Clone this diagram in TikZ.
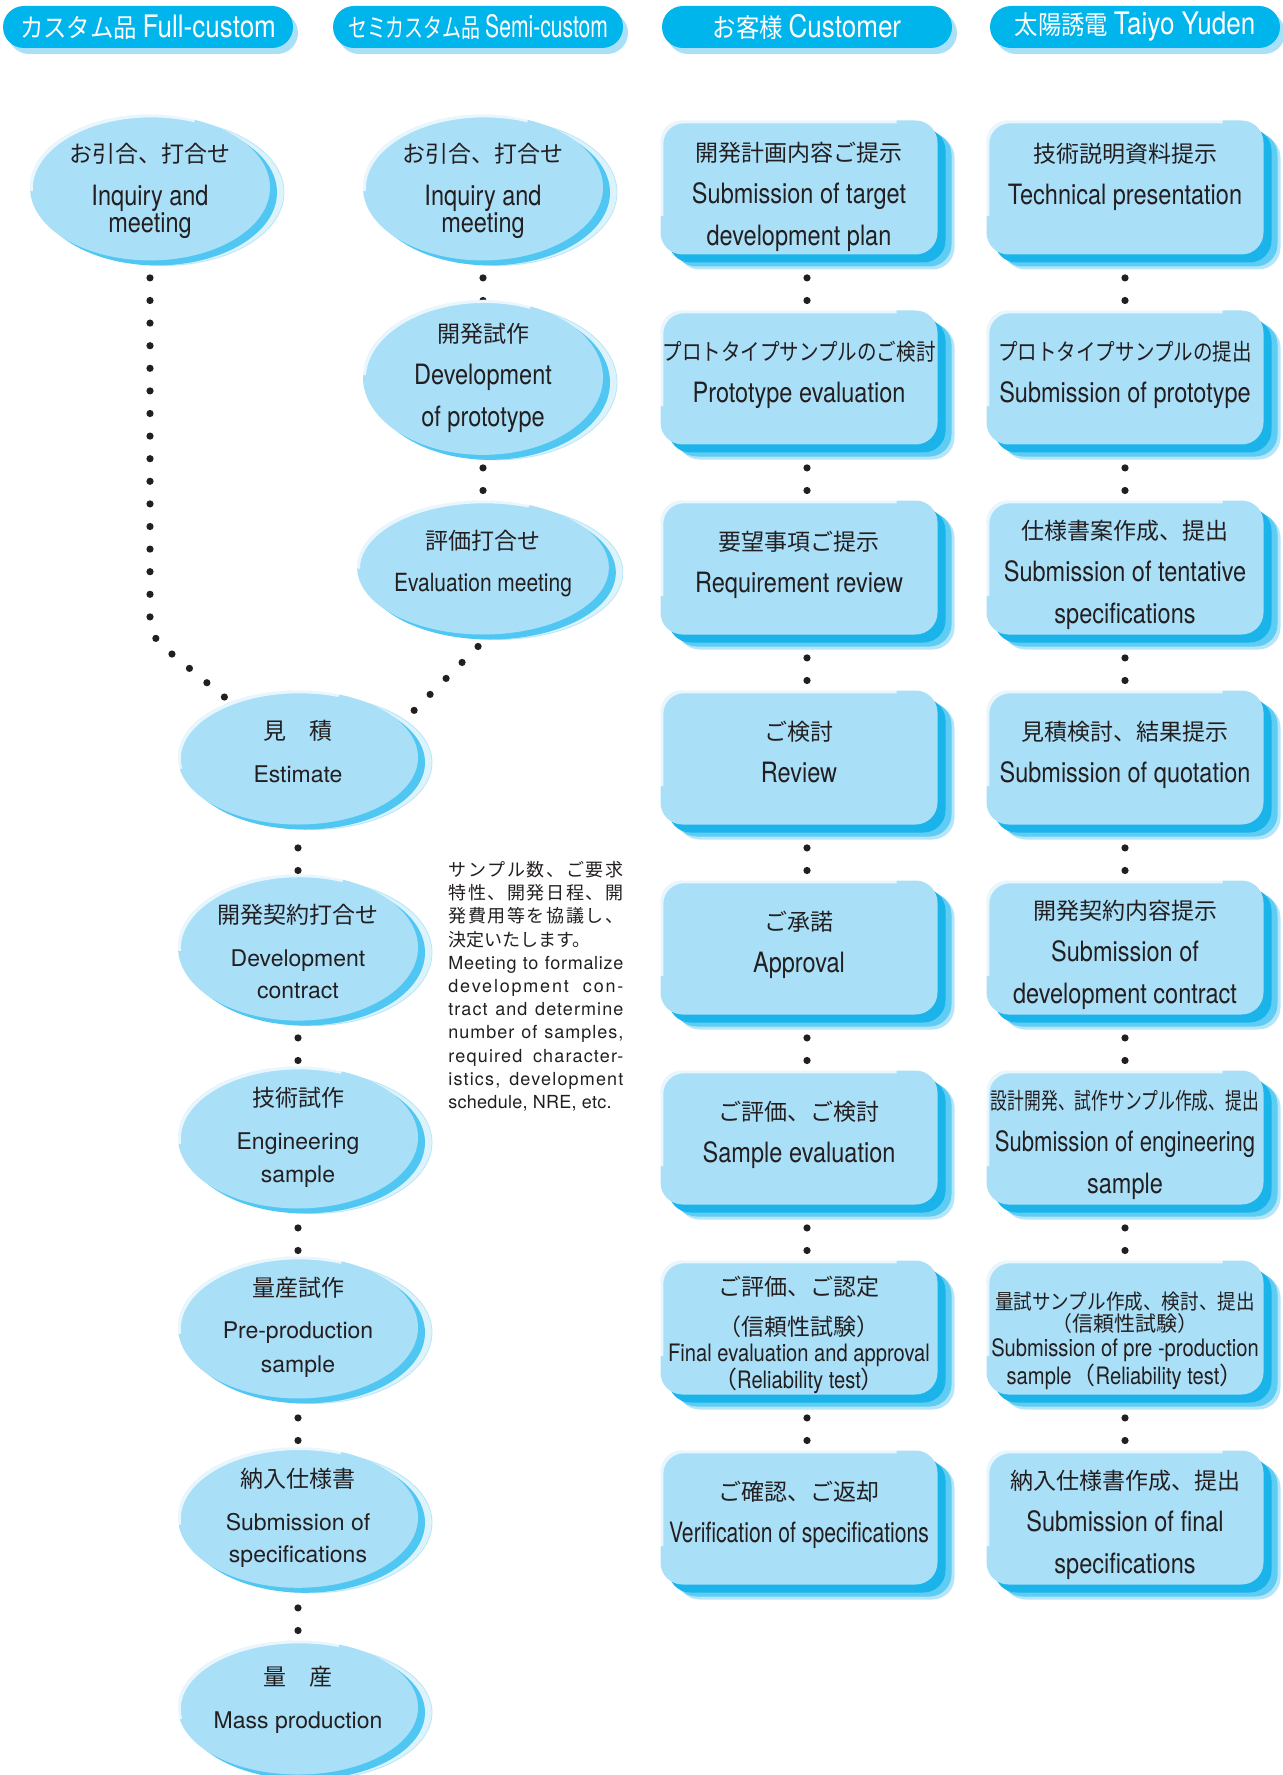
\documentclass[tikz,border=0pt]{standalone}
\usepackage{fontspec}
\usepackage{graphicx}
\setmainfont{TeX Gyre Heros}
\newfontfamily\cn{TeX Gyre Heros}[FakeStretch=0.84]
\newfontfamily\jp{Noto Sans CJK JP}
\newfontfamily\jpc{Noto Sans CJK JP}[FakeStretch=0.9]
\newfontfamily\notefont{TeX Gyre Heros}[LetterSpace=2]
\usetikzlibrary{shapes.geometric,backgrounds}
\definecolor{ink}{HTML}{231F20}
\definecolor{lightb}{HTML}{AADFF8}
\definecolor{rimell}{HTML}{50C7F2}
\definecolor{haloell}{HTML}{DDF3FC}
\definecolor{halodraw}{HTML}{B8E6F9}
\definecolor{rimbox}{HTML}{1AB4EB}
\definecolor{shadowb}{HTML}{5ECCF3}
\definecolor{shadowc}{HTML}{B4E5F9}
\definecolor{hdrb}{HTML}{00B4EC}
\definecolor{hdrshadow}{HTML}{A9E0F7}
\newcommand\sx[2]{\scalebox{#1}[1]{#2}}
\newcommand\JB[1]{{\jp\fontsize{11.5}{21}\selectfont #1}}
\newcommand\JH[1]{{\jpc\fontsize{13}{15}\selectfont #1}}
\newcommand\EH[1]{{\cn\fontsize{15.5}{15}\selectfont #1}}
\newcommand\NL[2]{\hbox to 87.5pt{\addfontfeature{LetterSpace=#1}#2}}
\tikzset{
  ell/.style={ellipse, minimum width=120pt, minimum height=67pt, inner sep=0pt,
    fill=lightb, align=center, text=ink,
    preaction={fill=haloell, draw=halodraw, line width=0.4pt, transform canvas={xshift=7pt,yshift=-2.5pt}},
    preaction={fill=rimell, transform canvas={xshift=3.5pt,yshift=-2.5pt}},
    postaction={draw=white, opacity=0.75, line width=1.6pt, dash pattern=on 0pt off 55pt on 100pt off 145pt,
      transform canvas={xshift=0.6pt,yshift=-0.6pt}}},
  box/.style={rectangle, rounded corners=11pt, minimum width=138.5pt, minimum height=67pt, inner sep=0pt,
    fill=lightb, align=center, text=ink, font=\cn\fontsize{14}{21}\selectfont,
    preaction={fill=shadowc, transform canvas={xshift=8.5pt,yshift=-7.5pt}},
    preaction={fill=shadowb, transform canvas={xshift=7pt,yshift=-6pt}},
    preaction={fill=rimbox, transform canvas={xshift=4pt,yshift=-4pt}},
    postaction={draw=white, opacity=0.75, line width=1.6pt, dash pattern=on 0pt off 10pt on 160pt off 222pt,
      transform canvas={xshift=0.6pt,yshift=-0.6pt}}},
  hdr/.style={rectangle, rounded corners=10.5pt, minimum width=145pt, minimum height=21pt, inner sep=0pt,
    fill=hdrb, text=white,
    preaction={fill=hdrshadow, transform canvas={xshift=2.5pt,yshift=-3pt}}},
  dotline/.style={draw=ink, line width=3.6pt, dash pattern=on 0pt off 11.3pt, line cap=round},
}
\begin{document}
\begin{tikzpicture}[x=0.5pt,y=-0.5pt]
\useasboundingbox (0,0) rectangle (1283,1775);
% headers
\node[hdr] (hA) at (148,27) {\JH{カスタム品} \EH{Full-custom}};
\node[hdr] (hB) at (478,27) {\sx{0.81}{\JH{セミカスタム品} \EH{Semi-custom}}};
\node[hdr] (hC) at (807,27) {\JH{お客様} \EH{Customer}};
\node[hdr] (hD) at (1135,27) {\JH{太陽誘電} \EH{Taiyo Yuden}};
% ellipses
\node[ell, font=\cn\fontsize{14}{13.5}\selectfont] (inq1) at (150,187.5) {\mbox{}\\{\jp\fontsize{11.5}{13.5}\selectfont お引合、打合せ}\\[8pt]Inquiry and\\meeting};
\node[ell, font=\cn\fontsize{14}{13.5}\selectfont] (inq2) at (483,187.5) {\mbox{}\\{\jp\fontsize{11.5}{13.5}\selectfont お引合、打合せ}\\[8pt]Inquiry and\\meeting};
\node[ell, font=\cn\fontsize{14}{21}\selectfont] (dev) at (483,377.5) {\JB{開発試作}\\Development\\of prototype};
\node[ell, font=\cn\fontsize{12.5}{21}\selectfont] (eval) at (483,567.5) {\JB{評価打合せ}\\Evaluation meeting\\[-14pt]\mbox{}};
\node[ell, font=\fontsize{11.5}{21.5}\selectfont] (est) at (298,757.5) {{\jp 見　積}\\Estimate\\[-14.9pt]\mbox{}};
\node[ell, font=\fontsize{11.5}{16}\selectfont] (con) at (298,947.5) {\mbox{}\\[-2pt]{\jp 開発契約打合せ}\\[5.5pt]Development\\contract};
\node[ell, font=\fontsize{11.5}{16.5}\selectfont] (eng) at (298,1137.5) {{\jp 技術試作}\\[5pt]Engineering\\sample};
\node[ell, font=\fontsize{11.5}{17}\selectfont] (pre) at (298,1327.5) {{\jp 量産試作}\\[4pt]Pre-production\\sample};
\node[ell, font=\fontsize{11.5}{16}\selectfont] (spec) at (298,1517.5) {{\jp 納入仕様書}\\[5.5pt]Submission of\\specifications};
\node[ell, font=\fontsize{11.5}{21.5}\selectfont] (mass) at (298,1707.5) {{\jp 量　産}\\Mass production\\[-11.5pt]\mbox{}};
% customer boxes
\node[box] (c1) at (799,187.5) {\mbox{}\\[-2pt]\JB{開発計画内容ご提示}\\Submission of target\\development plan};
\node[box] (c2) at (799,377.5) {\JB{\sx{0.85}{プロトタイプサンプルのご検討}}\\Prototype evaluation\\[-15pt]\mbox{}};
\node[box] (c3) at (799,567.5) {\JB{要望事項ご提示}\\Requirement review\\[-15pt]\mbox{}};
\node[box] (c4) at (799,757.5) {\JB{ご検討}\\Review\\[-15pt]\mbox{}};
\node[box] (c5) at (799,947.5) {\JB{ご承諾}\\Approval\\[-15pt]\mbox{}};
\node[box] (c6) at (799,1137.5) {\JB{ご評価、ご検討}\\Sample evaluation\\[-15pt]\mbox{}};
\node[box, font=\cn\fontsize{12}{11.5}\selectfont] (c7) at (799,1327.5) {\mbox{}\\[5.6pt]\JB{ご評価、ご認定}\\[8.5pt]\JB{（信頼性試験）}\\[1.5pt]Final evaluation and approval\\{\jp （}Reliability test{\jp ）}};
\node[box] (c8) at (799,1517.5) {\JB{ご確認、ご返却}\\\sx{0.9}{Verification of specifications}\\[-15pt]\mbox{}};
% Taiyo Yuden boxes
\node[box] (d1) at (1125,187.5) {\mbox{}\\[-4pt]\JB{技術説明資料提示}\\Technical presentation\\\mbox{}};
\node[box] (d2) at (1125,377.5) {\JB{\sx{0.85}{プロトタイプサンプルの提出}}\\Submission of prototype\\[-15pt]\mbox{}};
\node[box] (d3) at (1125,567.5) {\mbox{}\\[-4pt]\JB{仕様書案作成、提出}\\Submission of tentative\\specifications};
\node[box] (d4) at (1125,757.5) {\JB{見積検討、結果提示}\\Submission of quotation\\[-15pt]\mbox{}};
\node[box] (d5) at (1125,947.5) {\mbox{}\\[-4pt]\JB{開発契約内容提示}\\Submission of\\development contract};
\node[box] (d6) at (1125,1137.5) {\mbox{}\\[-4pt]\JB{\sx{0.73}{設計開発、試作サンプル作成、提出}}\\\sx{0.94}{Submission of engineering}\\sample};
\node[box, font=\cn\fontsize{12}{12}\selectfont] (d7) at (1125,1327.5) {\mbox{}\\[10pt]{\jp\fontsize{10.5}{12}\selectfont\sx{0.885}{量試サンプル作成、検討、提出}}\\[-0.8pt]{\jp\fontsize{10.5}{12}\selectfont （信頼性試験）}\\[0.3pt]Submission of pre -production\\sample{\jp （}Reliability test{\jp ）}};
\node[box] (d8) at (1125,1517.5) {\mbox{}\\[-4pt]\JB{納入仕様書作成、提出}\\Submission of final\\specifications};
% note
\node[anchor=north west, inner sep=0pt, text=ink, font=\notefont\fontsize{9}{11.6}\selectfont] (note) at (448,861) {\vbox{\hsize=87.5pt\baselineskip=11.6pt\lineskiplimit=-20pt
\hbox to 87.5pt{\jp サ\hfill ン\hfill プ\hfill ル\hfill 数\hfill 、\hfill ご\hfill 要\hfill 求}
\hbox to 87.5pt{\jp 特\hfill 性\hfill 、\hfill 開\hfill 発\hfill 日\hfill 程\hfill 、\hfill 開}
\hbox to 87.5pt{\jp 発\hfill 費\hfill 用\hfill 等\hfill を\hfill 協\hfill 議\hfill し\hfill 、}
\hbox{\jp 決定いたします。}
\NL{4}{Meeting\hfill to\hfill formalize}
\NL{10}{development\hfill con-}
\NL{6}{tract\hfill and\hfill determine}
\NL{5.5}{number\hfill of\hfill samples,}
\NL{6.5}{required\hfill character-}
\NL{6.5}{istics,\hfill development}
\hbox{\addfontfeature{LetterSpace=1.5}schedule, NRE, etc.}}};
% connectors
\begin{pgfonlayer}{background}
\fill[white] (0,0) rectangle (1283,1775);
\coordinate (bA) at (150,636);
\draw[dotline, rounded corners=8pt] (inq1.center) -- (bA) -- (est.center);
\draw[dotline] (inq2.center) -- (dev.center);
\draw[dotline] (dev.center) -- (eval.center);
\coordinate (bB) at (483,641.5);
\coordinate (bB2) at (392,732.5);
\draw[dotline, dash phase=4.7pt] (eval.center) -- (bB) -- (bB2) -- (est.center);
\foreach \a/\b in {est/con,con/eng,eng/pre,pre/spec,spec/mass}
  \draw[dotline] (\a.center) -- (\b.center);
\begin{scope}[transform canvas={xshift=4pt}]
\foreach \a/\b in {c1/c2,c2/c3,c3/c4,c4/c5,c5/c6,c6/c7,c7/c8}
  \draw[dotline] (\a.center) -- (\b.center);
\end{scope}
\foreach \a/\b in {d1/d2,d2/d3,d3/d4,d4/d5,d5/d6,d6/d7,d7/d8}
  \draw[dotline] (\a.center) -- (\b.center);
\end{pgfonlayer}
\end{tikzpicture}
\end{document}
